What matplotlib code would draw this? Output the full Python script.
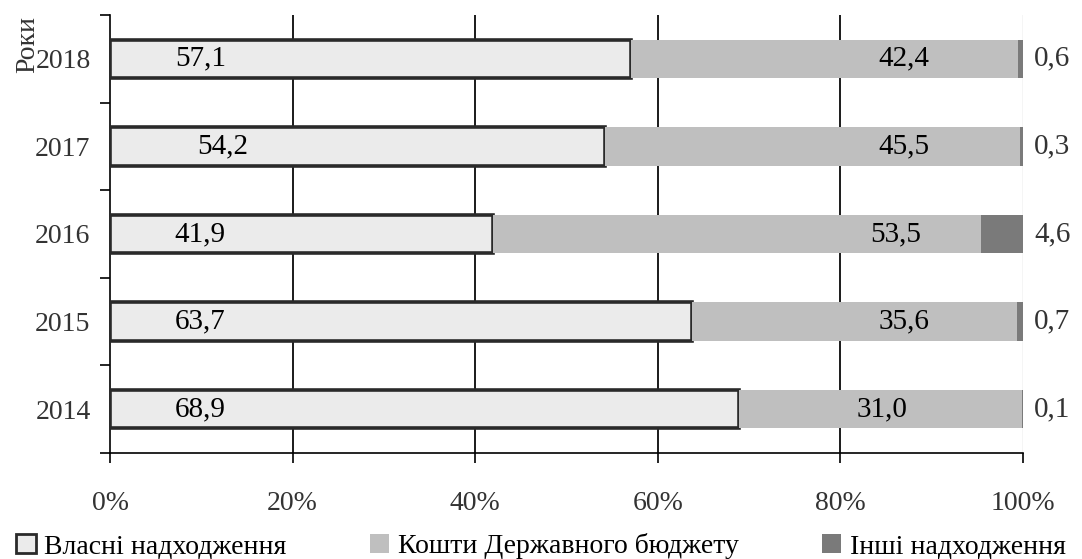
import numpy as np
import matplotlib.pyplot as plt
from matplotlib.patches import Patch

plt.rcParams['font.family'] = ['Liberation Serif', 'DejaVu Serif']

years = ['2014', '2015', '2016', '2017', '2018']
own = [68.9, 63.7, 41.9, 54.2, 57.1]
budget = [31.0, 35.6, 53.5, 45.5, 42.4]
other = [0.1, 0.7, 4.6, 0.3, 0.6]
own_lbl = ['68,9', '63,7', '41,9', '54,2', '57,1']
budget_lbl = ['31,0', '35,6', '53,5', '45,5', '42,4']
other_lbl = ['0,1', '0,7', '4,6', '0,3', '0,6']
series_names = ['Власні надходження', 'Кошти Державного бюджету', 'Інші надходження']
x_ticks = [0, 20, 40, 60, 80, 100]

fig = plt.figure(figsize=(10.82, 5.59), dpi=100)
ax = fig.add_axes([0.1017, 0.1896, 0.8438, 0.7836])

y = np.arange(len(years))
h = 0.44
ax.barh(y, own, height=h, color='#ebebeb', edgecolor='#2a2a2a', linewidth=2.6, zorder=3)
ax.barh(y, budget, left=own, height=h, color='#bfbfbf', zorder=3)
left3 = np.array(own) + np.array(budget)
ax.barh(y, other, left=left3, height=h, color='#7a7a7a', zorder=3)

fs = 20
own_x = [9.9, 9.9, 9.9, 12.3, 9.9]
bud_x = [84.5, 87, 86, 87, 87]
for i in range(len(years)):
    ax.text(own_x[i], y[i], own_lbl[i], ha='center', va='center', fontsize=21, zorder=5)
    ax.text(bud_x[i], y[i], budget_lbl[i], ha='center', va='center', fontsize=21, zorder=5)
    ax.text(101.2, y[i], other_lbl[i], ha='left', va='center', fontsize=21, zorder=5,
            color='#333333', clip_on=False)

ax.set_xlim(0, 100)
ax.set_ylim(-0.5, len(years) - 0.5)
ax.set_xticks(x_ticks)
ax.set_xticklabels([f'{v}%' for v in x_ticks], fontsize=fs, color='#333333')
ax.tick_params(axis='x', length=7, width=1.2, pad=20, direction='out')

# year labels at centres, ticks at boundaries
ax.set_yticks(np.arange(-0.5, len(years)), minor=False)
ax.set_yticklabels([])
ax.set_yticks(y, minor=True)
ax.set_yticklabels(years, minor=True, fontsize=fs, color='#333333')
ax.tick_params(axis='y', which='major', length=7, width=1.2)
ax.tick_params(axis='y', which='minor', length=0, pad=14)

for v in [20, 40, 60, 80]:
    ax.axvline(v, color='#1a1a1a', lw=1.4, zorder=1)
ax.axvline(100, color='#d0d0d0', lw=1.0, zorder=1)

ax.spines['top'].set_visible(False)
ax.spines['right'].set_visible(False)
ax.spines['left'].set_linewidth(1.2)
ax.spines['bottom'].set_linewidth(1.2)

fig.text(0.026, 0.92, 'Роки', rotation=90, ha='center', va='center', fontsize=fs, color='#333333')

handles = [Patch(facecolor='#ebebeb', edgecolor='#2a2a2a', linewidth=2),
           Patch(facecolor='#bfbfbf'),
           Patch(facecolor='#7a7a7a')]
fig.legend(handles, series_names, loc='lower center', bbox_to_anchor=(0.5, -0.045), ncol=3,
           frameon=False, fontsize=fs, handlelength=0.7, handleheight=0.7,
           handletextpad=0.3, columnspacing=3.0)

fig.savefig('out.png', dpi=100)
